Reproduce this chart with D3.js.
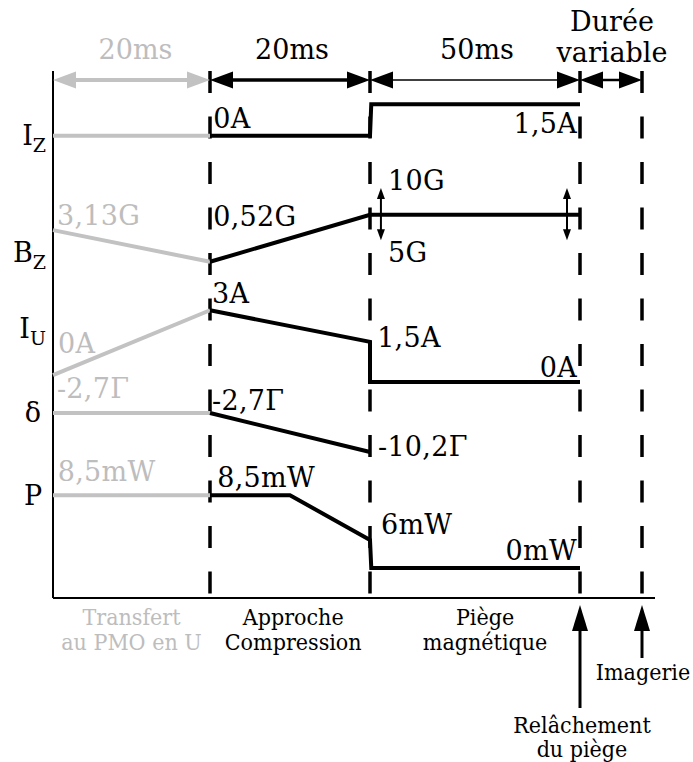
<!DOCTYPE html>
<html><head><meta charset="utf-8">
<script src="https://cdn.jsdelivr.net/npm/d3@7"></script>
<style>
body{margin:0;background:#fff}
svg{display:block}
text{font-family:"DejaVu Serif",serif}
.cond{font-family:"DejaVu Serif Condensed","DejaVu Serif",serif;font-stretch:condensed}
</style>
</head><body>
<svg id="c" width="693" height="762"></svg>
<script>
// ---- data ----
const phaseBounds = [0, 20, 40, 90, 100];            // ms (last phase: variable duration, nominal)
const durationLabels = [["20ms"], ["20ms"], ["50ms"], ["Durée", "variable"]];
const phaseNames = [["Transfert", "au PMO en U"], ["Approche", "Compression"], ["Piège", "magnétique"]];
const phaseNameT = [10, 30.4, 67.4];
const rowLabels = [
  {main: "I", sub: "Z", level: 86.0},
  {main: "B", sub: "Z", level: 63.8},
  {main: "I", sub: "U", level: 49.3},
  {main: "δ", level: 33.4},
  {main: "P", level: 17.6}
];
// schematic levels (0 = bottom axis, 100 = top)
const izGray  = [[0, 87.7], [20, 87.7]];
const izBlack = [[20, 87.7], [40, 87.7], [40.3, 93.7], [90, 93.7]];
const bzGray  = [[0, 69.8], [20, 63.8]];
const bzBlack = [[20, 63.8], [40, 72.7], [90, 72.7]];
const iuGray  = [[0, 42.3], [20, 54.6]];
const iuBlack = [[20, 54.6], [40, 48.6], [40, 41.0], [90, 41.0]];
const dGray   = [[0, 35.1], [20, 35.1]];
const dBlack  = [[20, 35.1], [40, 27.7]];
const pGray   = [[0, 19.5], [20, 19.5]];
const pBlack  = [[20, 19.5], [30, 19.5], [40, 11.0], [40.3, 5.7], [90, 5.7]];
const bzRange = [{t: 42.6, lo: 67.9, hi: 77.8}, {t: 86.9, lo: 67.9, hi: 77.8}];
const valueLabels = [
  {text: "0A",     t: 20.4, level: 89.2, anchor: "start", gray: false},
  {text: "1,5A",   t: 89.3, level: 88.2, anchor: "end",   gray: false},
  {text: "3,13G",  t: 0.5,  level: 70.8, anchor: "start", gray: true},
  {text: "0,52G",  t: 20.4, level: 70.6, anchor: "start", gray: false},
  {text: "10G",    t: 44.3, level: 77.4, anchor: "start", gray: false},
  {text: "5G",     t: 44.3, level: 63.8, anchor: "start", gray: false},
  {text: "3A",     t: 20.25,level: 56.0, anchor: "start", gray: false},
  {text: "0A",     t: 0.64, level: 46.5, anchor: "start", gray: true},
  {text: "1,5A",   t: 41.7, level: 47.6, anchor: "start", gray: false},
  {text: "0A",     t: 89.3, level: 41.9, anchor: "end",   gray: false},
  {text: "-2,7Γ",  t: 0.5,  level: 38.0, anchor: "start", gray: true},
  {text: "-2,7Γ",  t: 20.25,level: 35.7, anchor: "start", gray: false},
  {text: "-10,2Γ", t: 41.9, level: 26.9, anchor: "start", gray: false},
  {text: "8,5mW",  t: 0.6,  level: 22.2, anchor: "start", gray: true},
  {text: "8,5mW",  t: 20.9, level: 21.1, anchor: "start", gray: false},
  {text: "6mW",    t: 42.6, level: 12.1, anchor: "start", gray: false},
  {text: "0mW",    t: 89.3, level: 7.2,  anchor: "end",   gray: false}
];
const events = [
  {t: 90,  lines: ["Relâchement", "du piège"]},
  {t: 100, lines: ["Imagerie"]}
];

// ---- drawing ----
const GRAY_LINE = "#c2c2c2", GRAY_TEXT = "#bdbdbd";
const svg = d3.select("#c");
const x = d3.scaleLinear().domain(phaseBounds).range([53, 210, 370, 580, 642]);
const y = d3.scaleLinear().domain([0, 100]).range([598, 71]);
const line = d3.line().x(d => x(d[0])).y(d => y(d[1]));

// axes
svg.append("line").attr("x1", x(0)).attr("x2", x(0)).attr("y1", y(100)).attr("y2", y(0))
  .attr("stroke", "#000").attr("stroke-width", 2);
svg.append("line").attr("x1", x(0)).attr("x2", 655).attr("y1", y(0)).attr("y2", y(0))
  .attr("stroke", "#000").attr("stroke-width", 2);

// dashed phase boundaries
phaseBounds.slice(1).forEach(b => {
  svg.append("line").attr("x1", x(b)).attr("x2", x(b)).attr("y1", y(100)).attr("y2", y(0))
    .attr("stroke", "#000").attr("stroke-width", 3.5).attr("stroke-dasharray", "22 23.5");
});

// duration arrows
const arrowY = 80, hl = 23, hw = 8.5;
const arrowW = [4, 3.5, 1.6, 2.5];
durationLabels.forEach((lab, i) => {
  const x0 = x(phaseBounds[i]), x1 = x(phaseBounds[i + 1]);
  const col = i === 0 ? GRAY_LINE : "#000";
  svg.append("line").attr("x1", x0 + 5).attr("x2", x1 - 5).attr("y1", arrowY).attr("y2", arrowY)
    .attr("stroke", col).attr("stroke-width", arrowW[i]);
  svg.append("path").attr("fill", col)
    .attr("d", `M${x0},${arrowY}L${x0 + hl},${arrowY - hw}L${x0 + hl},${arrowY + hw}Z`);
  svg.append("path").attr("fill", col)
    .attr("d", `M${x1},${arrowY}L${x1 - hl},${arrowY - hw}L${x1 - hl},${arrowY + hw}Z`);
  const cx = (x0 + x1) / 2;
  const tcol = i === 0 ? GRAY_TEXT : "#000";
  if (lab.length === 1) {
    svg.append("text").attr("x", cx + (i === 0 ? 4 : 2)).attr("y", 59).attr("text-anchor", "middle")
      .attr("font-size", 27).attr("fill", tcol).text(lab[0]);
  } else {
    svg.append("text").attr("x", cx + 1).attr("y", 31).attr("text-anchor", "middle")
      .attr("font-size", 27).attr("fill", tcol).text(lab[0]);
    svg.append("text").attr("x", cx + 1).attr("y", 62).attr("text-anchor", "middle")
      .attr("font-size", 27).attr("fill", tcol).text(lab[1]);
  }
});

// series
const graySeries = [izGray, bzGray, iuGray, dGray, pGray];
const blackSeries = [izBlack, bzBlack, iuBlack, dBlack, pBlack];
graySeries.forEach(s => svg.append("path").attr("d", line(s)).attr("fill", "none")
  .attr("stroke", GRAY_LINE).attr("stroke-width", 4));
blackSeries.forEach(s => svg.append("path").attr("d", line(s)).attr("fill", "none")
  .attr("stroke", "#000").attr("stroke-width", 4).attr("stroke-linejoin", "miter"));

// Bz range arrows
bzRange.forEach(r => {
  const cx = x(r.t), yt = y(r.hi), yb = y(r.lo), h = 11, w = 4;
  svg.append("line").attr("x1", cx).attr("x2", cx).attr("y1", yt + 4).attr("y2", yb - 4)
    .attr("stroke", "#000").attr("stroke-width", 2);
  svg.append("path").attr("d", `M${cx},${yt}L${cx - w},${yt + h}L${cx + w},${yt + h}Z`);
  svg.append("path").attr("d", `M${cx},${yb}L${cx - w},${yb - h}L${cx + w},${yb - h}Z`);
});

// value labels
valueLabels.forEach(l => {
  svg.append("text").attr("x", x(l.t)).attr("y", y(l.level)).attr("text-anchor", l.anchor)
    .attr("font-size", 27).attr("letter-spacing", 0.3)
    .attr("fill", l.gray ? GRAY_TEXT : "#000").text(l.text);
});

// row labels
rowLabels.forEach(r => {
  const t = svg.append("text").attr("y", y(r.level)).attr("font-size", 27);
  if (r.sub) {
    t.attr("x", 46).attr("text-anchor", "end");
    t.append("tspan").text(r.main);
    t.append("tspan").attr("font-size", 19).attr("dy", 7).text(r.sub);
  } else {
    t.attr("x", 33).attr("text-anchor", "middle").text(r.main);
  }
});

// phase names
phaseNames.forEach((n, i) => {
  const col = i === 0 ? GRAY_TEXT : "#000";
  n.forEach((s, j) => {
    svg.append("text").attr("class", "cond").attr("x", x(phaseNameT[i])).attr("y", 625 + j * 25)
      .attr("text-anchor", "middle").attr("font-size", 23).attr("fill", col).text(s);
  });
});

// events
const shaftEnd = [708, 658];
const evLabelY = [[733, 757], [680]];
events.forEach((e, i) => {
  const cx = x(e.t);
  svg.append("line").attr("x1", cx).attr("x2", cx).attr("y1", 625).attr("y2", shaftEnd[i])
    .attr("stroke", "#000").attr("stroke-width", 3);
  svg.append("path").attr("d", `M${cx},605L${cx - 8},631L${cx + 8},631Z`);
  e.lines.forEach((s, j) => {
    svg.append("text").attr("class", "cond").attr("x", cx + (i === 0 ? 2 : 1)).attr("y", evLabelY[i][j])
      .attr("text-anchor", "middle").attr("font-size", 23).text(s);
  });
});
</script>
</body></html>
